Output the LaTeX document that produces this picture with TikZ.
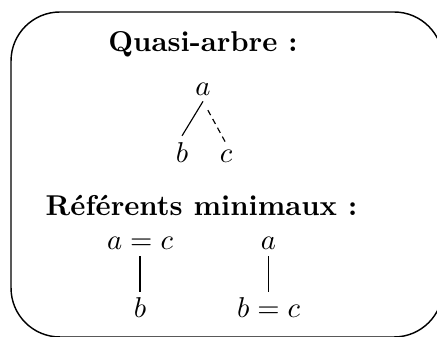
\documentclass[tikz,border=0pt]{standalone}
\usepackage{amsmath,amssymb}
\usepackage{tikz}

\begin{document}
\begin{tikzpicture}[every node/.style={anchor=base,inner sep=2pt},titre/.style={font=\bfseries}]
\clip (0,0) rectangle (5.353,4.116);
% frame
\draw[line width=0.5pt,rounded corners=0.6cm] (0.135,-0.012) rectangle (5.427,3.969);
% quasi-arbre
\node[titre] (qt) at (2.487,3.479) {Quasi-arbre :};
\node (a) at (2.487,2.952) {$a$};
\node (b) at (2.230,2.131) {$b$};
\node (c) at (2.769,2.131) {$c$};
\draw (a.south) -- (b.north);
\draw[dash pattern=on 2pt off 1.5pt,shorten <=3.5pt] (a.south) -- (c.north);
% referents minimaux
\node[titre] (rm) at (2.468,1.482) {Référents minimaux :};
\node (ac) at (1.715,1.054) {$a=c$};
\node (b1) at (1.715,0.2205) {$b$};
\node (a2) at (3.289,1.054) {$a$};
\node (bc) at (3.289,0.2205) {$b=c$};
\draw (ac.south) -- (b1.north);
\draw (a2.south) -- (bc.north);
\end{tikzpicture}
\end{document}
